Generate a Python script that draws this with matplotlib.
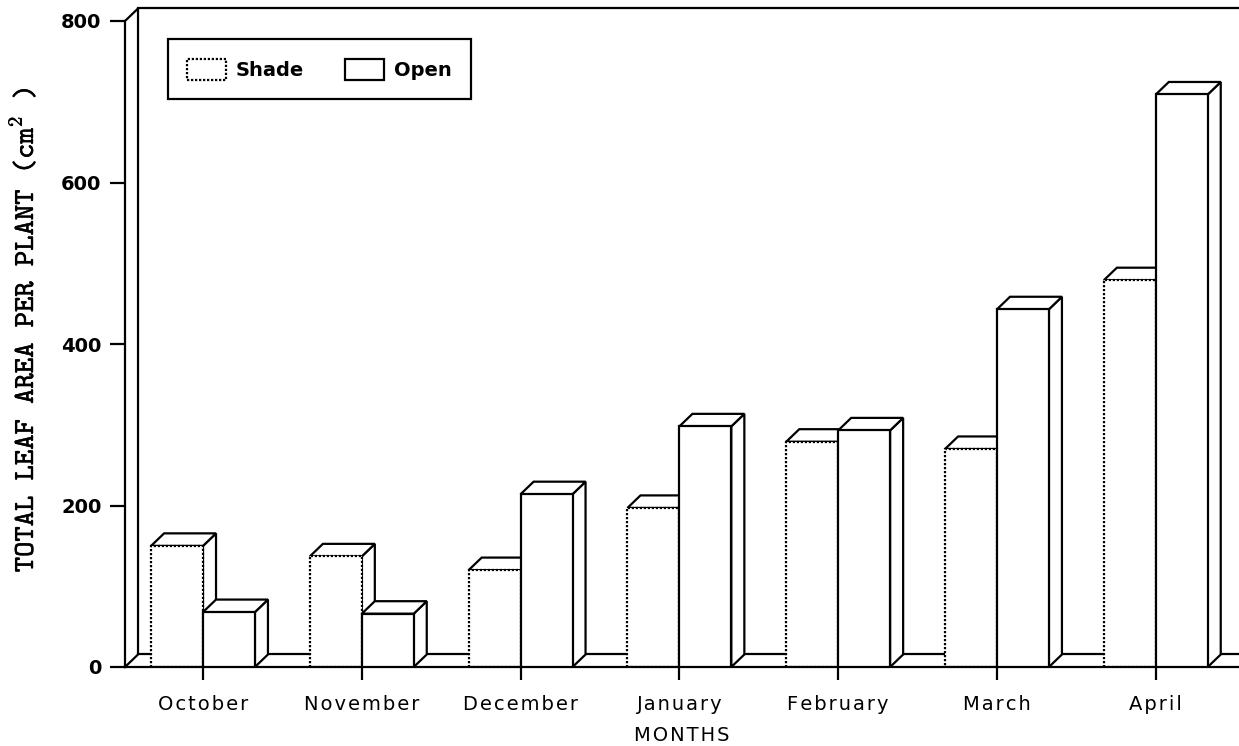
import matplotlib.pyplot as plt
import matplotlib.patheffects as pe
from matplotlib.patches import Polygon, Patch

months = ['October', 'November', 'December', 'January', 'February', 'March', 'April']
shade = [150, 137, 120, 197, 279, 270, 479]
open_sun = [68, 66, 214, 298, 293, 443, 709]
yticks = [0, 200, 400, 600, 800]

W = 0.327      # bar width (group units)
DX = 0.082     # depth offset, x
DY = 15.5      # depth offset, y
LW = 1.6
DOT = (0, (1, 0.8))

plt.rcParams['mathtext.fontset'] = 'cm'


def spaced(s):
    # widen the letter spacing with hair spaces
    return '\u200a'.join(s)


fig = plt.figure(figsize=(12.39, 7.46), dpi=100)
ax = fig.add_axes([125 / 1239, 79 / 746, 1114 / 1239, 646 / 746])
xl, xr = -0.4912, 6.524
ax.set_xlim(xl, xr)
ax.set_ylim(0, 800)

for s in ['top', 'right']:
    ax.spines[s].set_visible(False)
for s in ['left', 'bottom']:
    ax.spines[s].set_linewidth(LW)

# back wall and floor
kw = dict(color='black', lw=LW, clip_on=False, zorder=1)
ax.plot([xl, xl + DX, xl + DX, xl], [0, DY, 800 + DY, 800], **kw)
ax.plot([xl + DX, xr], [800 + DY, 800 + DY], **kw)
ax.plot([xl + DX, xr], [DY, DY], **kw)


def box(x0, h, z, ls):
    x1 = x0 + W
    top = Polygon([(x0, h), (x1, h), (x1 + DX, h + DY), (x0 + DX, h + DY)],
                  closed=True, fc='white', ec='black', lw=LW, zorder=z)
    side = Polygon([(x1, 0), (x1 + DX, DY), (x1 + DX, h + DY), (x1, h)],
                   closed=True, fc='white', ec='black', lw=LW, zorder=z)
    ax.add_patch(side)
    ax.add_patch(top)
    ax.bar(x0, h, width=W, align='edge', color='white', edgecolor='black',
           linewidth=LW, linestyle=ls, zorder=z + 0.5)


for i in range(len(months)):
    box(i - W, shade[i], 2, DOT)
    box(i, open_sun[i], 3, '-')

ax.set_xticks(range(len(months)))
ax.set_xticklabels([spaced(m) for m in months], fontsize=14,
                   family='DejaVu Sans')
ax.tick_params(axis='x', length=9.5, width=LW, pad=11)
ax.set_yticks(yticks)
ax.set_yticklabels([str(v) for v in yticks], fontsize=14, weight='bold',
                   family='DejaVu Sans')
ax.tick_params(axis='y', length=11, width=LW, pad=6)

ax.set_xlabel(spaced('MONTHS'), fontsize=14, family='DejaVu Sans', labelpad=8)
ylab = ax.set_ylabel(r'TOTAL LEAF AREA PER PLANT (cm$^{\mathtt{2}}$ )',
                     fontsize=21, family='cmtt10')
ylab.set_path_effects([pe.withStroke(linewidth=0.3, foreground='black')])
ax.yaxis.set_label_coords(-0.0763, 0.522)

handles = [Patch(facecolor='white', edgecolor='black', linestyle=DOT,
                 linewidth=LW, label='Shade'),
           Patch(facecolor='white', edgecolor='black', linewidth=LW,
                 label='Open')]
leg = ax.legend(handles=handles, ncol=2, loc='upper left',
                bbox_to_anchor=(0.0386, 0.972), borderaxespad=0,
                frameon=True, fancybox=False, edgecolor='black',
                handlelength=2.0, handleheight=1.3, handletextpad=0.5,
                columnspacing=2.1, borderpad=1.0,
                prop=dict(family='DejaVu Sans', weight='bold', size=14))
leg.get_frame().set_linewidth(LW)
leg.get_frame().set_alpha(1)

fig.savefig('out.png', dpi=100)
